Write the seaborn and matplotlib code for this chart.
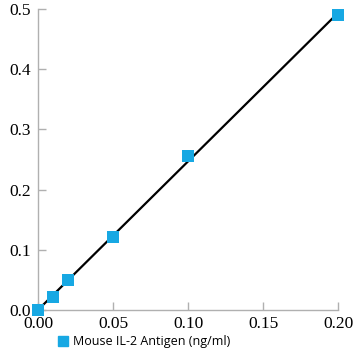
import matplotlib
matplotlib.use("Agg")
import matplotlib.pyplot as plt
import seaborn as sns
import numpy as np
import pandas as pd
from matplotlib.lines import Line2D
from matplotlib.ticker import FixedLocator, FormatStrFormatter

conc = [0.0, 0.01, 0.02, 0.05, 0.10, 0.20]
od = [0.0, 0.022, 0.050, 0.122, 0.255, 0.490]
xticks = [0.00, 0.05, 0.10, 0.15, 0.20]
yticks = [0.0, 0.1, 0.2, 0.3, 0.4, 0.5]
label = "Mouse IL-2 Antigen (ng/ml)"

df = pd.DataFrame({"x": conc, "y": od})

plt.rcParams["font.family"] = ["Liberation Serif", "DejaVu Serif"]
fig = plt.figure(figsize=(3.6, 3.6), dpi=100)
ax = fig.add_axes([0.106, 0.139, 0.833, 0.836])

color = "#17A8E3"
sns.regplot(data=df, x="x", y="y", ci=None, ax=ax, truncate=True,
            scatter=False, line_kws=dict(color="black", lw=1.6, zorder=2))
sns.scatterplot(data=df, x="x", y="y", ax=ax, marker="s", s=75, color=color,
                edgecolor="none", zorder=3, clip_on=False)

ax.set_xlim(0, 0.2)
ax.set_ylim(0, 0.5)
ax.xaxis.set_major_locator(FixedLocator(xticks))
ax.yaxis.set_major_locator(FixedLocator(yticks))
ax.xaxis.set_major_formatter(FormatStrFormatter("%.2f"))
ax.yaxis.set_major_formatter(FormatStrFormatter("%.1f"))
ax.set_xlabel("")
ax.set_ylabel("")
ax.grid(False)
for s in ["top", "right"]:
    ax.spines[s].set_visible(False)
for s in ["left", "bottom"]:
    ax.spines[s].set_color("#b0b0b0")
    ax.spines[s].set_linewidth(1.0)
ax.tick_params(axis="both", direction="in", length=6, color="#b0b0b0", width=1,
               labelsize=12.5, labelcolor="black")
ax.tick_params(axis="y", pad=5)
ax.tick_params(axis="x", pad=4)

h = Line2D([], [], marker="s", color=color, linestyle="none", markersize=7.5)
fig.legend([h], [label], loc="center left", bbox_to_anchor=(0.14, 0.05),
           frameon=False, prop=dict(family="Open Sans", size=9),
           handletextpad=0.3, borderpad=0, handlelength=1)

fig.canvas.draw()
for t in ax.get_xticklabels() + ax.get_yticklabels():
    t.set_fontfamily("Liberation Serif")
    t.set_fontsize(12.5)

fig.savefig("out.png", dpi=100)
